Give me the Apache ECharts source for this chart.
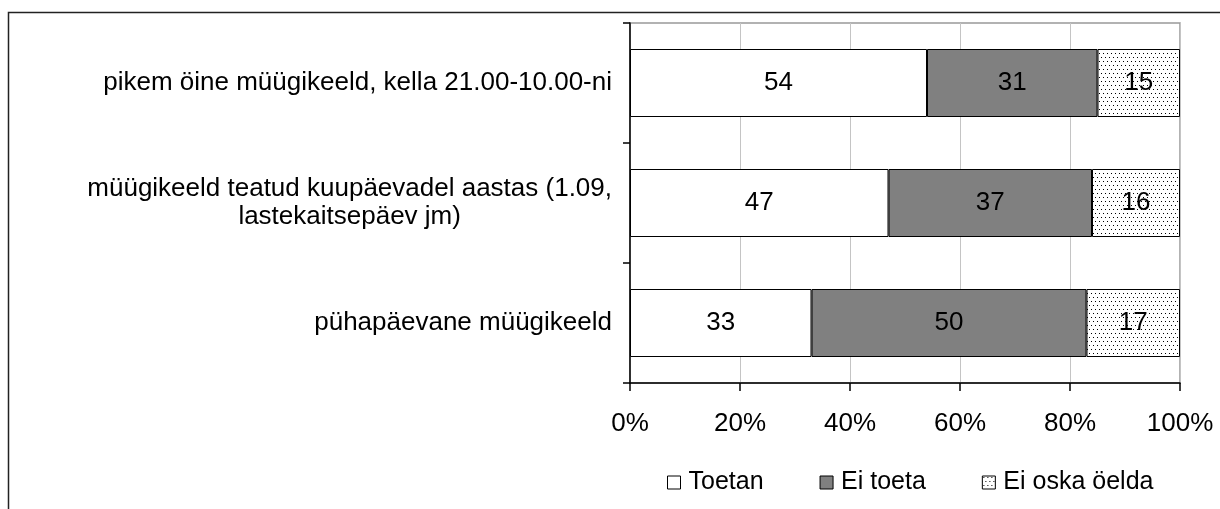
<!DOCTYPE html>
<html>
<head>
<meta charset="utf-8">
<script src="https://cdn.jsdelivr.net/npm/echarts@6/dist/echarts.min.js"></script>
<style>
  html, body { margin: 0; padding: 0; background: #fff; }
  #chart { width: 1220px; height: 509px; }
</style>
</head>
<body>
<div id="chart"></div>
<script>
// chart data
var categories = [
  'pikem öine müügikeeld, kella 21.00-10.00-ni',
  'müügikeeld teatud kuupäevadel aastas (1.09,\nlastekaitsepäev jm)',
  'pühapäevane müügikeeld'
]
var seriesNames = ['Toetan', 'Ei toeta', 'Ei oska öelda']
var toetan = [54, 47, 33]
var eiToeta = [31, 37, 50]
var eiOska = [15, 16, 17]
var xTicks = [0, 20, 40, 60, 80, 100]

var font = '"Liberation Sans", Arial, sans-serif'

// dotted fill for "Ei oska öelda"
function dotPattern() {
  var c = document.createElement('canvas')
  c.width = 4
  c.height = 8
  var ctx = c.getContext('2d')
  ctx.fillStyle = '#fff'
  ctx.fillRect(0, 0, 4, 8)
  ctx.fillStyle = '#000'
  ctx.fillRect(1, 1, 1, 1)
  ctx.fillRect(3, 5, 1, 1)
  return c
}

var chart = echarts.init(document.getElementById('chart'), null, { renderer: 'canvas' })

var labelStyle = {
  show: true,
  position: 'inside',
  color: '#000',
  fontFamily: font,
  fontSize: 26
}

chart.setOption({
  animation: false,
  backgroundColor: '#fff',
  textStyle: { fontFamily: font },
  graphic: [
    {
      type: 'rect',
      shape: { x: 8.5, y: 12.5, width: 1300, height: 600 },
      style: { fill: 'none', stroke: '#222', lineWidth: 1.5 },
      silent: true
    }
  ],
  grid: {
    left: 630,
    right: 40,
    top: 23,
    bottom: 126,
    show: true,
    backgroundColor: '#fff',
    borderColor: '#999',
    borderWidth: 1.5
  },
  legend: {
    data: seriesNames,
    left: 662,
    top: 465,
    itemWidth: 13,
    itemHeight: 13,
    itemGap: 56,
    icon: 'rect',
    itemStyle: { borderWidth: 1 },
    textStyle: { fontFamily: font, fontSize: 25, color: '#000', padding: [0, 0, 0, 3] }
  },
  xAxis: {
    type: 'value',
    min: xTicks[0],
    max: xTicks[xTicks.length - 1],
    interval: 20,
    axisLine: { show: true, lineStyle: { color: '#000', width: 1.5 } },
    axisTick: { show: true, length: 8, lineStyle: { color: '#000', width: 1.5 } },
    axisLabel: {
      formatter: '{value}%',
      color: '#000',
      fontFamily: font,
      fontSize: 26,
      margin: 28
    },
    splitLine: { show: true, lineStyle: { color: '#c4c4c4', width: 1 } }
  },
  yAxis: {
    type: 'category',
    data: categories,
    inverse: true,
    axisLine: { show: true, lineStyle: { color: '#000', width: 1.5 } },
    axisTick: { show: true, length: 7, lineStyle: { color: '#000', width: 1.5 } },
    axisLabel: {
      color: '#000',
      margin: 18,
      formatter: function (v) {
        return v.split('\n').map(function (l) { return '{c|' + l + '}' }).join('\n')
      },
      rich: {
        c: { align: 'center', fontFamily: font, fontSize: 26, lineHeight: 28, color: '#000' }
      }
    }
  },
  series: [
    {
      name: seriesNames[0],
      type: 'bar',
      stack: 'total',
      barWidth: 68,
      data: toetan,
      itemStyle: { color: '#fff', borderColor: '#000', borderWidth: 1 },
      label: labelStyle
    },
    {
      name: seriesNames[1],
      type: 'bar',
      stack: 'total',
      barWidth: 68,
      data: eiToeta,
      itemStyle: { color: '#808080', borderColor: '#000', borderWidth: 1 },
      label: labelStyle
    },
    {
      name: seriesNames[2],
      type: 'bar',
      stack: 'total',
      barWidth: 68,
      data: eiOska,
      itemStyle: { color: { image: dotPattern(), repeat: 'repeat' }, borderColor: '#000', borderWidth: 1 },
      label: labelStyle
    }
  ]
})
</script>
</body>
</html>
